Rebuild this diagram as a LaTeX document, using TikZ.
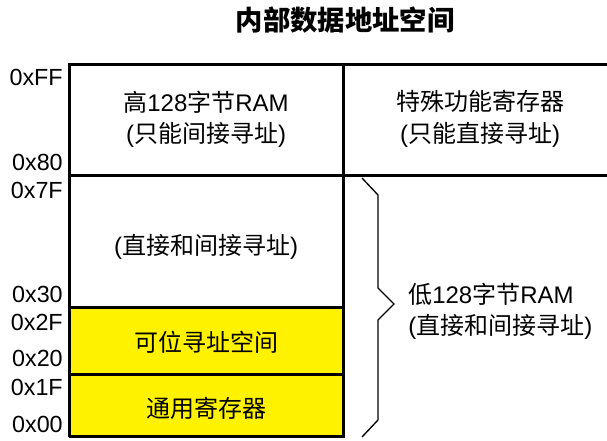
\documentclass[tikz,border=0pt]{standalone}
\usepackage{fontspec}
\setmainfont{Liberation Sans}
\newfontfamily\cjk{Noto Sans CJK SC}
\begin{document}
\begin{tikzpicture}[x=0.75pt,y=-0.75pt,
    every node/.style={inner sep=0pt},
    txt/.style={font=\fontsize{18}{23.5}\selectfont, align=center},
    addr/.style={font=\fontsize{17.5}{19}\selectfont, anchor=east},
    box/.style={line width=2.25pt}]
    \useasboundingbox (0,0) rectangle (607,441);

    % yellow part
    \fill[yellow] (69,308) rectangle (343,437);

    % boxes
    \draw[box] (69,437) -- (69,65) -- (607,65);
    \draw[box] (69,176) -- (607,176);
    \draw[box] (343,65) -- (343,437) -- (69,437);
    \draw[box] (69,308) -- (343,308);
    \draw[box] (69,375) -- (343,375);

    % brace
    \draw[line width=1pt] (362,178) -- (378,195) -- (378,288) -- (394,304)
        -- (378,320) -- (378,420) -- (362,437);

    % title
    \node[font=\cjk\bfseries\fontsize{20.5}{24}\selectfont] (title) at (345,20) {内部数据地址空间};

    % texts
    \node[txt] (high) at (206,119) {{\cjk 高}128{\cjk 字节}RAM\\({\cjk 只能间接寻址})};
    \node[txt] (sfr) at (480,119) {{\cjk 特殊功能寄存器}\\({\cjk 只能直接寻址})};
    \node[txt] (direct) at (206,247) {({\cjk 直接和间接寻址})};
    \node[txt] (bit) at (206,342) {\cjk 可位寻址空间};
    \node[txt] (reg) at (206,408) {\cjk 通用寄存器};
    \node[txt, anchor=west, align=left] (low) at (408,311) {{\cjk 低}128{\cjk 字节}RAM\\({\cjk 直接和间接寻址})};

    % addresses
    \foreach \a/\y in {FF/77, 80/162, 7F/190, 30/294, 2F/322, 20/358, 1F/387, 00/424}
        \node[addr] (a\a) at (63,\y) {0x\a};
\end{tikzpicture}
\end{document}
